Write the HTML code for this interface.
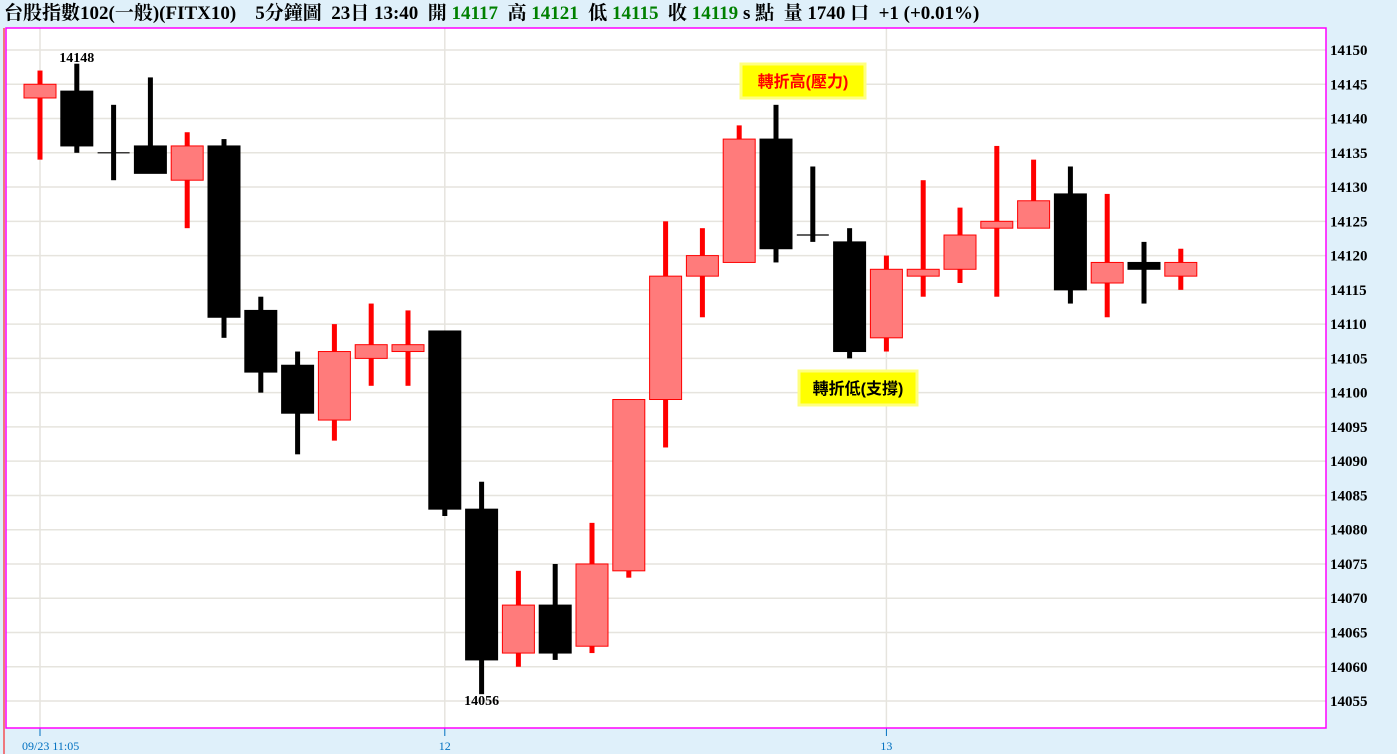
<!DOCTYPE html>
<html><head><meta charset="utf-8"><style>
body{margin:0;background:#dff0fa;width:1397px;height:754px;overflow:hidden;font-family:"Liberation Serif","Noto Serif CJK SC",serif}
#hdr{position:absolute;left:4px;top:2px;font-size:19px;line-height:24px;font-weight:bold;white-space:pre;color:#000}
.g{color:#008000}
svg{position:absolute;left:0;top:0}
</style></head><body>
<div id="hdr">台股指數102(一般)(FITX10)    5分鐘圖  23日 13:40  開 <span class="g">14117</span>  高 <span class="g">14121</span>  低 <span class="g">14115</span>  收 <span class="g">14119</span> s 點  量 1740 口  +1 (+0.01%)</div>
<svg id="c" width="1397" height="754"></svg>
<script>
const opens=[14143,14144,14135,14136,14131,14136,14112,14104,14096,14105,14106,14109,14083,14062,14069,14063,14074,14099,14117,14119,14137,14123,14122,14108,14117,14118,14124,14124,14129,14116,14119,14117];
const closes=[14145,14136,14135,14132,14136,14111,14103,14097,14106,14107,14107,14083,14061,14069,14062,14075,14099,14117,14120,14137,14121,14123,14106,14118,14118,14123,14125,14128,14115,14119,14118,14119];
const highs=[14147,14148,14142,14146,14138,14137,14114,14106,14110,14113,14112,14109,14087,14074,14075,14081,14099,14125,14124,14139,14142,14133,14124,14120,14131,14127,14136,14134,14133,14129,14122,14121];
const lows=[14134,14135,14131,14132,14124,14108,14100,14091,14093,14101,14101,14082,14056,14060,14061,14062,14073,14092,14111,14119,14119,14122,14105,14106,14114,14116,14114,14124,14113,14111,14113,14115];
const yTicks=[14150,14145,14140,14135,14130,14125,14120,14115,14110,14105,14100,14095,14090,14085,14080,14075,14070,14065,14060,14055];
const xLabels=[[0,"09/23 11:05"],[11,"12"],[23,"13"]];
const NS="http://www.w3.org/2000/svg",svg=document.getElementById('c');
const y=p=>50+(14150-p)*6.853, x=i=>40+i*36.8;
function el(t,a,p){const e=document.createElementNS(NS,t);for(const k in a)e.setAttribute(k,a[k]);(p||svg).appendChild(e);return e;}
let e=el('rect',{x:6,y:28,width:1320,height:700,fill:'#fff'});

yTicks.forEach(v=>{el('line',{x1:6,x2:1326,y1:y(v),y2:y(v),stroke:'#e6e4de','stroke-width':1.5});
 const t=el('text',{x:1330,y:y(v)+5,'font-size':15,'font-weight':'bold','font-family':'Liberation Serif,serif'});t.textContent=v;
 });
xLabels.forEach(([i,s])=>{const xx=x(i);el('line',{x1:xx,x2:xx,y1:28,y2:728,stroke:'#e6e4de','stroke-width':1.5});
 el('line',{x1:xx,x2:xx,y1:728,y2:736,stroke:'#0070c0'});
 const t=el('text',{x:i?xx:22,y:750,'font-size':12,fill:'#0070c0','text-anchor':i?'middle':'start','font-family':'Liberation Serif,serif'});t.textContent=s;
 });
el('rect',{x:6,y:28,width:1320,height:700,fill:'none',stroke:'#f0f',"stroke-width":1.5});
el('line',{x1:4,x2:4,y1:28,y2:754,stroke:'#f00'});
opens.forEach((o,i)=>{const c=closes[i],cx=x(i),up=c>o,dj=c===o;
 const g=el('g',{});
 const col=up?'#f00':'#000';
 el('rect',{x:cx-2.5,y:y(highs[i]),width:5,height:y(lows[i])-y(highs[i]),fill:dj?'#000':col},g);
 if(dj){el('line',{x1:cx-16,x2:cx+16,y1:y(o),y2:y(o),stroke:'#000','stroke-width':1.2},g);}
 else{const t=y(Math.max(o,c)),b=y(Math.min(o,c));
  el('rect',{x:cx-16,y:t,width:32,height:Math.max(b-t,1),fill:up?'#ff7b7b':'#000',stroke:up?'#f00':'#000','stroke-width':1},g);}
});
function lab(s,xx,yy,n){const t=el('text',{x:xx,y:yy,'font-size':14,'font-weight':'bold','text-anchor':'middle','font-family':'Liberation Serif,serif'});t.textContent=s;}
lab(Math.max(...highs),x(1),62,'high-annotation');
lab(Math.min(...lows),x(12),705,'low-annotation');
function box(s,bx,by,w,col,n){const g=el('g',{});
 el('rect',{x:bx,y:by,width:w,height:34,fill:'#ff0',stroke:'#ffff80','stroke-width':3},g);
 const t=el('text',{x:bx+w/2,y:by+23,'font-size':16,'font-weight':'bold',fill:col,'text-anchor':'middle','font-family':'Liberation Sans,Noto Sans CJK TC,sans-serif'},g);t.textContent=s;}
box('轉折高(壓力)',741,64,124,'#f00','turning-high-label');
box('轉折低(支撐)',799,371,118,'#000','turning-low-label');
</script>
</body></html>
